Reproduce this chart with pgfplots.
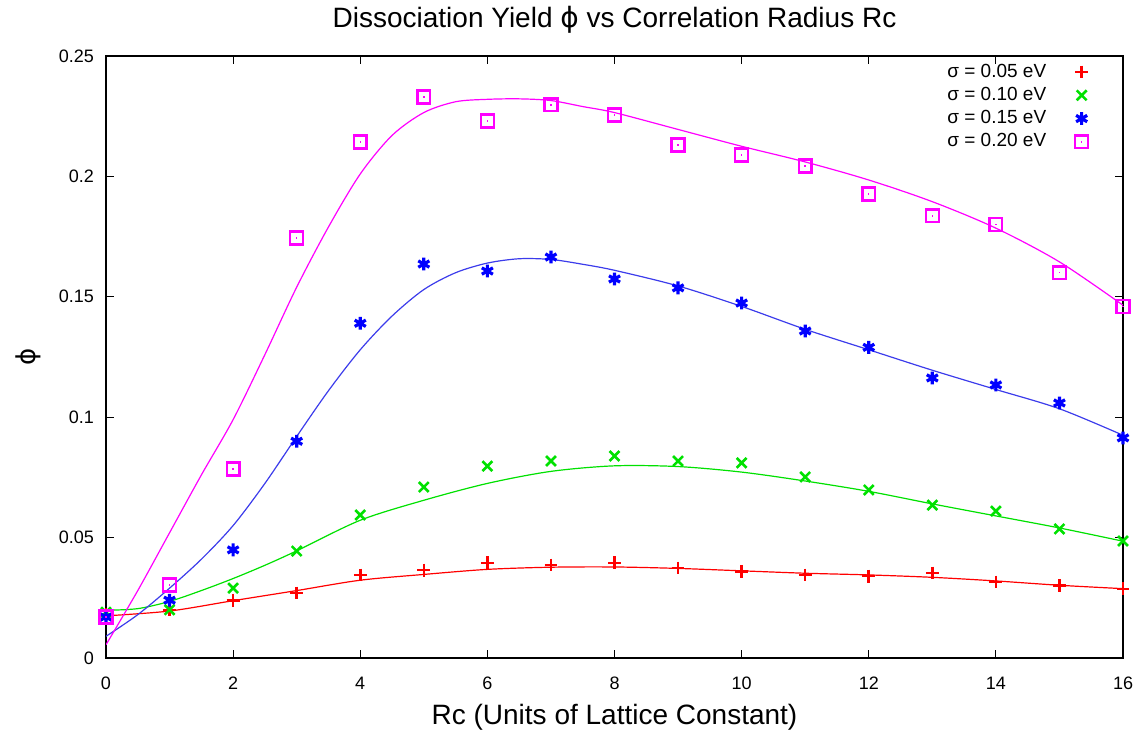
\documentclass[border=0pt]{standalone}
\usepackage{pgfplots}
\pgfplotsset{compat=1.18}
\usepackage{fontspec}
\setmainfont{Liberation Sans}
\newfontfamily\dejavu{DejaVu Sans}
\definecolor{gred}{RGB}{255,0,0}
\definecolor{ggreen}{RGB}{0,225,0}
\definecolor{gblue}{RGB}{0,0,255}
\definecolor{gblueline}{RGB}{60,60,235}
\definecolor{gmag}{RGB}{255,0,255}
\pgfdeclareplotmark{sqdot}{%
  \pgfpathrectangle{\pgfpoint{-\pgfplotmarksize}{-\pgfplotmarksize}}{\pgfpoint{2\pgfplotmarksize}{2\pgfplotmarksize}}%
  \pgfusepathqstroke
  \pgfpathrectangle{\pgfpoint{-0.35pt}{-0.35pt}}{\pgfpoint{0.7pt}{0.7pt}}%
  \pgfusepathqfill}
\begin{document}
\begin{tikzpicture}
\begin{axis}[
  name=main,
  scale only axis,
  width=508.5pt, height=301pt,
  xmin=0, xmax=16, ymin=0, ymax=0.25,
  xtick={0,2,...,16},
  ytick={0,0.05,0.1,0.15,0.2,0.25},
  yticklabel style={/pgf/number format/fixed,/pgf/number format/precision=2, xshift=-2.5pt},
  xticklabel style={yshift=-5.8pt},
  /pgf/number format/assume math mode=true,
  tick label style={font=\fontsize{9}{10}\selectfont},
  tick align=inside,
  major tick length=4pt,
  axis line style={line width=0.8pt},
  every tick/.style={black, line width=0.6pt},
  title={Dissociation Yield {\dejavu ϕ} vs Correlation Radius Rc},
  title style={font=\fontsize{14}{16}\selectfont, at={(axis description cs:0.5,1)}, anchor=base, yshift=8pt},
  xlabel={Rc (Units of Lattice Constant)},
  xlabel style={font=\fontsize{14}{16}\selectfont, at={(axis description cs:0.5,0)}, anchor=base, yshift=-33.5pt},
  ylabel={{\dejavu ϕ}},
  ylabel style={font=\fontsize{13}{15}\selectfont, at={(axis description cs:-0.0767,0.5)}, anchor=center},
  legend style={draw=none, fill=none, at={(axis description cs:0.821,0.9975)}, anchor=north west,
    font=\fontsize{9.5}{11}\selectfont, row sep=-0.5pt, inner sep=1pt,
    /tikz/every odd column/.append style={column sep=12.5pt}},
  legend cell align=left,
  legend plot pos=right,
]
% fitted curves
\addplot[gred, line width=0.6pt, smooth, forget plot] table {
x y
0 0.0175
1 0.0195
2 0.0238
3 0.0280
4 0.0323
5 0.0347
6 0.0368
7 0.0377
8 0.0378
9 0.0372
10 0.0362
11 0.0352
12 0.0345
13 0.0335
14 0.0320
15 0.0302
16 0.0288
};
\addplot[ggreen, line width=0.6pt, smooth, forget plot] table {
x y
0 0.0198
0.5 0.0205
1 0.0235
1.5 0.0280
2 0.0330
2.5 0.0385
3 0.0445
4 0.0572
5 0.0655
6 0.0725
7 0.0775
8 0.0798
9 0.0795
10 0.0772
11 0.0735
12 0.0692
13 0.0640
14 0.0590
15 0.0540
16 0.0485
};
\addplot[gblueline, line width=0.6pt, smooth, forget plot] table {
x y
0 0.0090
0.5 0.0180
1 0.0290
1.5 0.0410
2 0.0550
2.5 0.0725
3 0.0920
3.5 0.1110
4 0.1280
4.5 0.1420
5 0.1530
5.5 0.1600
6 0.1640
6.5 0.1658
7 0.1655
7.5 0.1635
8 0.1610
9 0.1545
10 0.1460
11 0.1365
12 0.1280
13 0.1195
14 0.1115
15 0.1035
16 0.0925
};
\addplot[gmag, line width=0.6pt, smooth, forget plot] table {
x y
0 0.0055
0.5 0.0280
1 0.0520
1.5 0.0760
2 0.0990
2.5 0.1260
3 0.1540
3.5 0.1790
4 0.2010
4.5 0.2170
5 0.2265
5.5 0.2310
6 0.2320
6.5 0.2322
7 0.2315
7.5 0.2290
8 0.2265
9 0.2195
10 0.2125
11 0.2060
12 0.1985
13 0.1895
14 0.1785
15 0.1645
16 0.1465
};
% data points
\addplot[only marks, mark=+, mark size=3.2pt, gred, mark options={line width=1.3pt}] table {
x y
0 0.0183
1 0.0200
2 0.0240
3 0.0270
4 0.0345
5 0.0365
6 0.0395
7 0.0386
8 0.0395
9 0.0374
10 0.0360
11 0.0345
12 0.0340
13 0.0353
14 0.0316
15 0.0300
16 0.0287
};
\addlegendentry{σ = 0.05 eV}
\addplot[only marks, mark=x, mark size=3.5pt, ggreen, mark options={line width=1.3pt}] table {
x y
0 0.0190
1 0.0200
2 0.0290
3 0.0444
4 0.0594
5 0.0710
6 0.0797
7 0.0818
8 0.0839
9 0.0818
10 0.0810
11 0.0752
12 0.0698
13 0.0635
14 0.0610
15 0.0536
16 0.0486
};
\addlegendentry{σ = 0.10 eV}
\addplot[only marks, mark=asterisk, mark size=3.2pt, gblue, mark options={line width=1.6pt}] table {
x y
0 0.0170
1 0.0240
2 0.0449
3 0.0900
4 0.1390
5 0.1636
6 0.1607
7 0.1665
8 0.1574
9 0.1537
10 0.1474
11 0.1358
12 0.1290
13 0.1163
14 0.1134
15 0.1059
16 0.0914
};
\addlegendentry{σ = 0.15 eV}
\addplot[only marks, mark=sqdot, mark size=3.2pt, gmag, mark options={line width=1.2pt, fill=gmag}] table {
x y
0 0.0170
1 0.0303
2 0.0785
3 0.1744
4 0.2143
5 0.2330
6 0.2230
7 0.2297
8 0.2255
9 0.2130
10 0.2089
11 0.2043
12 0.1927
13 0.1836
14 0.1800
15 0.1600
16 0.1460
};
\addlegendentry{σ = 0.20 eV}
\end{axis}
\pgfresetboundingbox
\path[use as bounding box] ([shift={(-53pt,-36.5pt)}]main.south west) rectangle ([shift={(5pt,28pt)}]main.north east);
\end{tikzpicture}
\end{document}
